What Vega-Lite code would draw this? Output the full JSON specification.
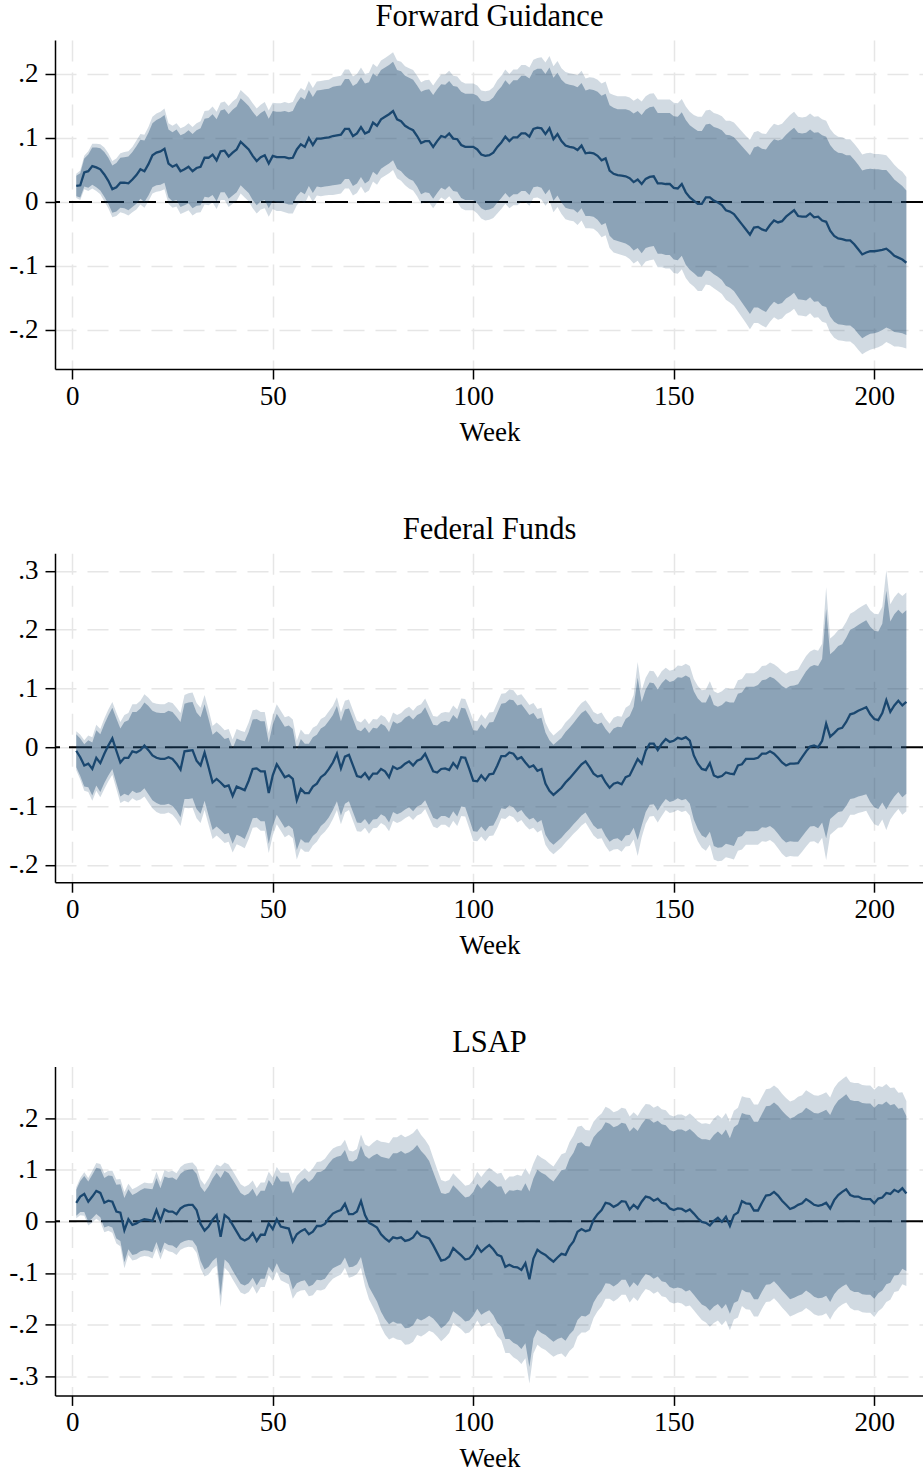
{
"$schema":"https://vega.github.io/schema/vega-lite/v6.json",
"background":"white",
"padding":{"left":8,"top":1,"right":0,"bottom":0},
"config":{
"font":"Liberation Serif",
"view":{"stroke":null},
"concat":{"spacing":69.2},
"title":{"font":"Liberation Serif","fontSize":30.5,"fontWeight":"normal","color":"black","anchor":"middle","frame":"group","offset":8,"baseline":"alphabetic"},
"axis":{"labelFont":"Liberation Serif","labelFontSize":27,"labelColor":"black","titleFont":"Liberation Serif","titleFontSize":27,"titleFontWeight":"normal","titleColor":"black","domainColor":"black","domainWidth":1.5,"tickColor":"black","tickWidth":1.5,"tickSize":10,"gridColor":"#e6e6e6","gridDash":[21,11],"gridWidth":1.5},
"axisX":{"labelPadding":4,"titlePadding":10},
"axisY":{"labelPadding":7}
},
"datasets":{
"fg":[
{"w":1,"y":0.025,"e1":0.016,"e2":0.019},{"w":2,"y":0.026,"e1":0.019,"e2":0.023},{"w":3,"y":0.046,"e1":0.022,"e2":0.026},{"w":4,"y":0.048,"e1":0.026,"e2":0.031},{"w":5,"y":0.056,"e1":0.029,"e2":0.035},{"w":6,"y":0.054,"e1":0.031,"e2":0.037},{"w":7,"y":0.051,"e1":0.033,"e2":0.039},{"w":8,"y":0.043,"e1":0.035,"e2":0.042},{"w":9,"y":0.033,"e1":0.036,"e2":0.043},{"w":10,"y":0.020,"e1":0.037,"e2":0.044},
{"w":11,"y":0.023,"e1":0.038,"e2":0.045},{"w":12,"y":0.030,"e1":0.039,"e2":0.046},{"w":13,"y":0.030,"e1":0.040,"e2":0.048},{"w":14,"y":0.029,"e1":0.042,"e2":0.050},{"w":15,"y":0.035,"e1":0.043,"e2":0.051},{"w":16,"y":0.042,"e1":0.045,"e2":0.054},{"w":17,"y":0.051,"e1":0.046,"e2":0.055},{"w":18,"y":0.048,"e1":0.048,"e2":0.057},{"w":19,"y":0.059,"e1":0.049,"e2":0.058},{"w":20,"y":0.073,"e1":0.050,"e2":0.060},
{"w":21,"y":0.077,"e1":0.051,"e2":0.061},{"w":22,"y":0.079,"e1":0.052,"e2":0.062},{"w":23,"y":0.083,"e1":0.053,"e2":0.063},{"w":24,"y":0.060,"e1":0.053,"e2":0.063},{"w":25,"y":0.055,"e1":0.054,"e2":0.064},{"w":26,"y":0.058,"e1":0.055,"e2":0.065},{"w":27,"y":0.048,"e1":0.056,"e2":0.067},{"w":28,"y":0.051,"e1":0.056,"e2":0.067},{"w":29,"y":0.055,"e1":0.057,"e2":0.068},{"w":30,"y":0.048,"e1":0.058,"e2":0.069},
{"w":31,"y":0.053,"e1":0.059,"e2":0.070},{"w":32,"y":0.055,"e1":0.060,"e2":0.071},{"w":33,"y":0.069,"e1":0.061,"e2":0.073},{"w":34,"y":0.069,"e1":0.062,"e2":0.074},{"w":35,"y":0.074,"e1":0.063,"e2":0.075},{"w":36,"y":0.065,"e1":0.064,"e2":0.076},{"w":37,"y":0.079,"e1":0.064,"e2":0.076},{"w":38,"y":0.080,"e1":0.065,"e2":0.077},{"w":39,"y":0.071,"e1":0.066,"e2":0.079},{"w":40,"y":0.077,"e1":0.067,"e2":0.080},
{"w":41,"y":0.082,"e1":0.067,"e2":0.080},{"w":42,"y":0.094,"e1":0.068,"e2":0.081},{"w":43,"y":0.088,"e1":0.068,"e2":0.081},{"w":44,"y":0.082,"e1":0.068,"e2":0.081},{"w":45,"y":0.072,"e1":0.069,"e2":0.082},{"w":46,"y":0.064,"e1":0.069,"e2":0.082},{"w":47,"y":0.070,"e1":0.069,"e2":0.082},{"w":48,"y":0.073,"e1":0.070,"e2":0.083},{"w":49,"y":0.060,"e1":0.070,"e2":0.083},{"w":50,"y":0.072,"e1":0.070,"e2":0.083},
{"w":51,"y":0.070,"e1":0.071,"e2":0.084},{"w":52,"y":0.070,"e1":0.071,"e2":0.084},{"w":53,"y":0.070,"e1":0.072,"e2":0.086},{"w":54,"y":0.068,"e1":0.072,"e2":0.086},{"w":55,"y":0.069,"e1":0.073,"e2":0.087},{"w":56,"y":0.082,"e1":0.073,"e2":0.087},{"w":57,"y":0.090,"e1":0.074,"e2":0.088},{"w":58,"y":0.086,"e1":0.074,"e2":0.088},{"w":59,"y":0.100,"e1":0.075,"e2":0.089},{"w":60,"y":0.089,"e1":0.075,"e2":0.089},
{"w":61,"y":0.099,"e1":0.075,"e2":0.089},{"w":62,"y":0.099,"e1":0.076,"e2":0.090},{"w":63,"y":0.100,"e1":0.076,"e2":0.090},{"w":64,"y":0.101,"e1":0.076,"e2":0.090},{"w":65,"y":0.103,"e1":0.077,"e2":0.092},{"w":66,"y":0.104,"e1":0.077,"e2":0.092},{"w":67,"y":0.105,"e1":0.077,"e2":0.092},{"w":68,"y":0.114,"e1":0.078,"e2":0.093},{"w":69,"y":0.114,"e1":0.078,"e2":0.093},{"w":70,"y":0.103,"e1":0.078,"e2":0.093},
{"w":71,"y":0.107,"e1":0.078,"e2":0.093},{"w":72,"y":0.117,"e1":0.078,"e2":0.093},{"w":73,"y":0.107,"e1":0.078,"e2":0.093},{"w":74,"y":0.110,"e1":0.077,"e2":0.092},{"w":75,"y":0.124,"e1":0.077,"e2":0.092},{"w":76,"y":0.119,"e1":0.077,"e2":0.092},{"w":77,"y":0.129,"e1":0.077,"e2":0.092},{"w":78,"y":0.133,"e1":0.077,"e2":0.092},{"w":79,"y":0.137,"e1":0.077,"e2":0.092},{"w":80,"y":0.142,"e1":0.077,"e2":0.092},
{"w":81,"y":0.129,"e1":0.077,"e2":0.092},{"w":82,"y":0.126,"e1":0.078,"e2":0.093},{"w":83,"y":0.119,"e1":0.078,"e2":0.093},{"w":84,"y":0.115,"e1":0.079,"e2":0.094},{"w":85,"y":0.112,"e1":0.079,"e2":0.094},{"w":86,"y":0.103,"e1":0.079,"e2":0.094},{"w":87,"y":0.092,"e1":0.080,"e2":0.095},{"w":88,"y":0.095,"e1":0.080,"e2":0.095},{"w":89,"y":0.095,"e1":0.081,"e2":0.096},{"w":90,"y":0.086,"e1":0.081,"e2":0.096},
{"w":91,"y":0.095,"e1":0.081,"e2":0.096},{"w":92,"y":0.103,"e1":0.081,"e2":0.096},{"w":93,"y":0.101,"e1":0.082,"e2":0.098},{"w":94,"y":0.107,"e1":0.082,"e2":0.098},{"w":95,"y":0.099,"e1":0.082,"e2":0.098},{"w":96,"y":0.098,"e1":0.082,"e2":0.098},{"w":97,"y":0.089,"e1":0.083,"e2":0.099},{"w":98,"y":0.086,"e1":0.083,"e2":0.099},{"w":99,"y":0.086,"e1":0.083,"e2":0.099},{"w":100,"y":0.086,"e1":0.083,"e2":0.099},
{"w":101,"y":0.082,"e1":0.084,"e2":0.100},{"w":102,"y":0.074,"e1":0.084,"e2":0.100},{"w":103,"y":0.072,"e1":0.085,"e2":0.101},{"w":104,"y":0.073,"e1":0.085,"e2":0.101},{"w":105,"y":0.077,"e1":0.086,"e2":0.102},{"w":106,"y":0.086,"e1":0.087,"e2":0.104},{"w":107,"y":0.093,"e1":0.087,"e2":0.104},{"w":108,"y":0.102,"e1":0.088,"e2":0.105},{"w":109,"y":0.095,"e1":0.088,"e2":0.105},{"w":110,"y":0.101,"e1":0.089,"e2":0.106},
{"w":111,"y":0.101,"e1":0.089,"e2":0.106},{"w":112,"y":0.107,"e1":0.090,"e2":0.107},{"w":113,"y":0.107,"e1":0.090,"e2":0.107},{"w":114,"y":0.102,"e1":0.091,"e2":0.108},{"w":115,"y":0.114,"e1":0.091,"e2":0.108},{"w":116,"y":0.116,"e1":0.092,"e2":0.109},{"w":117,"y":0.115,"e1":0.093,"e2":0.111},{"w":118,"y":0.106,"e1":0.094,"e2":0.112},{"w":119,"y":0.115,"e1":0.095,"e2":0.113},{"w":120,"y":0.098,"e1":0.096,"e2":0.114},
{"w":121,"y":0.106,"e1":0.096,"e2":0.114},{"w":122,"y":0.095,"e1":0.096,"e2":0.114},{"w":123,"y":0.088,"e1":0.097,"e2":0.115},{"w":124,"y":0.086,"e1":0.097,"e2":0.115},{"w":125,"y":0.085,"e1":0.097,"e2":0.115},{"w":126,"y":0.081,"e1":0.098,"e2":0.117},{"w":127,"y":0.088,"e1":0.098,"e2":0.117},{"w":128,"y":0.076,"e1":0.098,"e2":0.117},{"w":129,"y":0.077,"e1":0.099,"e2":0.118},{"w":130,"y":0.076,"e1":0.099,"e2":0.118},
{"w":131,"y":0.072,"e1":0.100,"e2":0.119},{"w":132,"y":0.065,"e1":0.101,"e2":0.120},{"w":133,"y":0.068,"e1":0.101,"e2":0.120},{"w":134,"y":0.049,"e1":0.102,"e2":0.121},{"w":135,"y":0.044,"e1":0.103,"e2":0.123},{"w":136,"y":0.042,"e1":0.103,"e2":0.123},{"w":137,"y":0.041,"e1":0.104,"e2":0.124},{"w":138,"y":0.040,"e1":0.105,"e2":0.125},{"w":139,"y":0.037,"e1":0.106,"e2":0.126},{"w":140,"y":0.031,"e1":0.107,"e2":0.127},
{"w":141,"y":0.035,"e1":0.107,"e2":0.127},{"w":142,"y":0.028,"e1":0.108,"e2":0.129},{"w":143,"y":0.036,"e1":0.108,"e2":0.129},{"w":144,"y":0.039,"e1":0.109,"e2":0.130},{"w":145,"y":0.040,"e1":0.109,"e2":0.130},{"w":146,"y":0.029,"e1":0.110,"e2":0.131},{"w":147,"y":0.029,"e1":0.110,"e2":0.131},{"w":148,"y":0.028,"e1":0.111,"e2":0.132},{"w":149,"y":0.028,"e1":0.111,"e2":0.132},{"w":150,"y":0.022,"e1":0.112,"e2":0.133},
{"w":151,"y":0.021,"e1":0.112,"e2":0.133},{"w":152,"y":0.028,"e1":0.112,"e2":0.133},{"w":153,"y":0.015,"e1":0.113,"e2":0.134},{"w":154,"y":0.007,"e1":0.113,"e2":0.134},{"w":155,"y":0.002,"e1":0.113,"e2":0.134},{"w":156,"y":-0.003,"e1":0.114,"e2":0.136},{"w":157,"y":-0.003,"e1":0.114,"e2":0.136},{"w":158,"y":0.007,"e1":0.114,"e2":0.136},{"w":159,"y":0.007,"e1":0.115,"e2":0.137},{"w":160,"y":0.002,"e1":0.115,"e2":0.137},
{"w":161,"y":-0.001,"e1":0.116,"e2":0.138},{"w":162,"y":-0.005,"e1":0.117,"e2":0.139},{"w":163,"y":-0.013,"e1":0.118,"e2":0.140},{"w":164,"y":-0.015,"e1":0.119,"e2":0.142},{"w":165,"y":-0.019,"e1":0.120,"e2":0.143},{"w":166,"y":-0.027,"e1":0.121,"e2":0.144},{"w":167,"y":-0.035,"e1":0.122,"e2":0.145},{"w":168,"y":-0.043,"e1":0.123,"e2":0.146},{"w":169,"y":-0.051,"e1":0.124,"e2":0.148},{"w":170,"y":-0.040,"e1":0.125,"e2":0.149},
{"w":171,"y":-0.039,"e1":0.126,"e2":0.150},{"w":172,"y":-0.043,"e1":0.126,"e2":0.150},{"w":173,"y":-0.045,"e1":0.127,"e2":0.151},{"w":174,"y":-0.036,"e1":0.127,"e2":0.151},{"w":175,"y":-0.029,"e1":0.127,"e2":0.151},{"w":176,"y":-0.032,"e1":0.128,"e2":0.152},{"w":177,"y":-0.030,"e1":0.128,"e2":0.152},{"w":178,"y":-0.023,"e1":0.128,"e2":0.152},{"w":179,"y":-0.018,"e1":0.129,"e2":0.154},{"w":180,"y":-0.013,"e1":0.129,"e2":0.154},
{"w":181,"y":-0.022,"e1":0.130,"e2":0.155},{"w":182,"y":-0.023,"e1":0.130,"e2":0.155},{"w":183,"y":-0.023,"e1":0.131,"e2":0.156},{"w":184,"y":-0.018,"e1":0.131,"e2":0.156},{"w":185,"y":-0.024,"e1":0.132,"e2":0.157},{"w":186,"y":-0.023,"e1":0.132,"e2":0.157},{"w":187,"y":-0.029,"e1":0.133,"e2":0.158},{"w":188,"y":-0.031,"e1":0.133,"e2":0.158},{"w":189,"y":-0.045,"e1":0.134,"e2":0.159},{"w":190,"y":-0.053,"e1":0.134,"e2":0.159},
{"w":191,"y":-0.057,"e1":0.134,"e2":0.159},{"w":192,"y":-0.058,"e1":0.134,"e2":0.159},{"w":193,"y":-0.060,"e1":0.133,"e2":0.158},{"w":194,"y":-0.060,"e1":0.133,"e2":0.158},{"w":195,"y":-0.066,"e1":0.132,"e2":0.157},{"w":196,"y":-0.074,"e1":0.132,"e2":0.157},{"w":197,"y":-0.082,"e1":0.131,"e2":0.156},{"w":198,"y":-0.079,"e1":0.130,"e2":0.155},{"w":199,"y":-0.077,"e1":0.129,"e2":0.154},{"w":200,"y":-0.077,"e1":0.128,"e2":0.152},
{"w":201,"y":-0.076,"e1":0.127,"e2":0.151},{"w":202,"y":-0.075,"e1":0.125,"e2":0.149},{"w":203,"y":-0.073,"e1":0.123,"e2":0.146},{"w":204,"y":-0.078,"e1":0.121,"e2":0.144},{"w":205,"y":-0.084,"e1":0.119,"e2":0.142},{"w":206,"y":-0.087,"e1":0.117,"e2":0.139},{"w":207,"y":-0.090,"e1":0.115,"e2":0.137},{"w":208,"y":-0.095,"e1":0.113,"e2":0.134}
],
"ff":[
{"w":1,"y":-0.006,"e1":0.028,"e2":0.033},{"w":2,"y":-0.017,"e1":0.032,"e2":0.038},{"w":3,"y":-0.031,"e1":0.036,"e2":0.043},{"w":4,"y":-0.028,"e1":0.040,"e2":0.048},{"w":5,"y":-0.037,"e1":0.045,"e2":0.054},{"w":6,"y":-0.018,"e1":0.047,"e2":0.056},{"w":7,"y":-0.027,"e1":0.049,"e2":0.058},{"w":8,"y":-0.011,"e1":0.050,"e2":0.060},{"w":9,"y":0.003,"e1":0.051,"e2":0.061},{"w":10,"y":0.015,"e1":0.052,"e2":0.062},
{"w":11,"y":-0.006,"e1":0.055,"e2":0.065},{"w":12,"y":-0.026,"e1":0.058,"e2":0.069},{"w":13,"y":-0.018,"e1":0.061,"e2":0.073},{"w":14,"y":-0.018,"e1":0.064,"e2":0.076},{"w":15,"y":-0.007,"e1":0.067,"e2":0.080},{"w":16,"y":-0.009,"e1":0.069,"e2":0.082},{"w":17,"y":-0.005,"e1":0.071,"e2":0.084},{"w":18,"y":0.003,"e1":0.073,"e2":0.087},{"w":19,"y":-0.005,"e1":0.075,"e2":0.089},{"w":20,"y":-0.014,"e1":0.076,"e2":0.090},
{"w":21,"y":-0.018,"e1":0.077,"e2":0.092},{"w":22,"y":-0.020,"e1":0.078,"e2":0.093},{"w":23,"y":-0.020,"e1":0.078,"e2":0.093},{"w":24,"y":-0.017,"e1":0.079,"e2":0.094},{"w":25,"y":-0.020,"e1":0.080,"e2":0.095},{"w":26,"y":-0.028,"e1":0.080,"e2":0.095},{"w":27,"y":-0.038,"e1":0.081,"e2":0.096},{"w":28,"y":-0.007,"e1":0.081,"e2":0.096},{"w":29,"y":-0.006,"e1":0.082,"e2":0.098},{"w":30,"y":-0.005,"e1":0.082,"e2":0.098},
{"w":31,"y":-0.023,"e1":0.082,"e2":0.098},{"w":32,"y":-0.031,"e1":0.082,"e2":0.098},{"w":33,"y":-0.009,"e1":0.082,"e2":0.098},{"w":34,"y":-0.034,"e1":0.082,"e2":0.098},{"w":35,"y":-0.060,"e1":0.081,"e2":0.096},{"w":36,"y":-0.054,"e1":0.081,"e2":0.096},{"w":37,"y":-0.060,"e1":0.081,"e2":0.096},{"w":38,"y":-0.067,"e1":0.081,"e2":0.096},{"w":39,"y":-0.065,"e1":0.081,"e2":0.096},{"w":40,"y":-0.083,"e1":0.081,"e2":0.096},
{"w":41,"y":-0.067,"e1":0.082,"e2":0.098},{"w":42,"y":-0.070,"e1":0.082,"e2":0.098},{"w":43,"y":-0.073,"e1":0.083,"e2":0.099},{"w":44,"y":-0.057,"e1":0.083,"e2":0.099},{"w":45,"y":-0.037,"e1":0.084,"e2":0.100},{"w":46,"y":-0.036,"e1":0.084,"e2":0.100},{"w":47,"y":-0.041,"e1":0.085,"e2":0.101},{"w":48,"y":-0.041,"e1":0.085,"e2":0.101},{"w":49,"y":-0.078,"e1":0.086,"e2":0.102},{"w":50,"y":-0.048,"e1":0.086,"e2":0.102},
{"w":51,"y":-0.029,"e1":0.086,"e2":0.102},{"w":52,"y":-0.040,"e1":0.086,"e2":0.102},{"w":53,"y":-0.051,"e1":0.086,"e2":0.102},{"w":54,"y":-0.048,"e1":0.085,"e2":0.101},{"w":55,"y":-0.054,"e1":0.085,"e2":0.101},{"w":56,"y":-0.090,"e1":0.085,"e2":0.101},{"w":57,"y":-0.071,"e1":0.085,"e2":0.101},{"w":58,"y":-0.078,"e1":0.084,"e2":0.100},{"w":59,"y":-0.078,"e1":0.084,"e2":0.100},{"w":60,"y":-0.067,"e1":0.084,"e2":0.100},
{"w":61,"y":-0.062,"e1":0.083,"e2":0.099},{"w":62,"y":-0.051,"e1":0.083,"e2":0.099},{"w":63,"y":-0.046,"e1":0.082,"e2":0.098},{"w":64,"y":-0.037,"e1":0.082,"e2":0.098},{"w":65,"y":-0.026,"e1":0.081,"e2":0.096},{"w":66,"y":-0.011,"e1":0.081,"e2":0.096},{"w":67,"y":-0.036,"e1":0.080,"e2":0.095},{"w":68,"y":-0.016,"e1":0.080,"e2":0.095},{"w":69,"y":-0.013,"e1":0.079,"e2":0.094},{"w":70,"y":-0.031,"e1":0.079,"e2":0.094},
{"w":71,"y":-0.049,"e1":0.079,"e2":0.094},{"w":72,"y":-0.051,"e1":0.078,"e2":0.093},{"w":73,"y":-0.044,"e1":0.078,"e2":0.093},{"w":74,"y":-0.054,"e1":0.078,"e2":0.093},{"w":75,"y":-0.045,"e1":0.078,"e2":0.093},{"w":76,"y":-0.045,"e1":0.077,"e2":0.092},{"w":77,"y":-0.037,"e1":0.077,"e2":0.092},{"w":78,"y":-0.041,"e1":0.077,"e2":0.092},{"w":79,"y":-0.051,"e1":0.077,"e2":0.092},{"w":80,"y":-0.033,"e1":0.077,"e2":0.092},
{"w":81,"y":-0.037,"e1":0.077,"e2":0.092},{"w":82,"y":-0.034,"e1":0.077,"e2":0.092},{"w":83,"y":-0.028,"e1":0.078,"e2":0.093},{"w":84,"y":-0.024,"e1":0.078,"e2":0.093},{"w":85,"y":-0.031,"e1":0.078,"e2":0.093},{"w":86,"y":-0.023,"e1":0.078,"e2":0.093},{"w":87,"y":-0.020,"e1":0.078,"e2":0.093},{"w":88,"y":-0.011,"e1":0.079,"e2":0.094},{"w":89,"y":-0.026,"e1":0.079,"e2":0.094},{"w":90,"y":-0.041,"e1":0.079,"e2":0.094},
{"w":91,"y":-0.043,"e1":0.080,"e2":0.095},{"w":92,"y":-0.037,"e1":0.080,"e2":0.095},{"w":93,"y":-0.036,"e1":0.081,"e2":0.096},{"w":94,"y":-0.039,"e1":0.082,"e2":0.098},{"w":95,"y":-0.027,"e1":0.082,"e2":0.098},{"w":96,"y":-0.035,"e1":0.083,"e2":0.099},{"w":97,"y":-0.017,"e1":0.084,"e2":0.100},{"w":98,"y":-0.018,"e1":0.084,"e2":0.100},{"w":99,"y":-0.037,"e1":0.085,"e2":0.101},{"w":100,"y":-0.057,"e1":0.086,"e2":0.102},
{"w":101,"y":-0.058,"e1":0.086,"e2":0.102},{"w":102,"y":-0.048,"e1":0.087,"e2":0.104},{"w":103,"y":-0.056,"e1":0.087,"e2":0.104},{"w":104,"y":-0.046,"e1":0.088,"e2":0.105},{"w":105,"y":-0.045,"e1":0.088,"e2":0.105},{"w":106,"y":-0.031,"e1":0.089,"e2":0.106},{"w":107,"y":-0.015,"e1":0.089,"e2":0.106},{"w":108,"y":-0.015,"e1":0.090,"e2":0.107},{"w":109,"y":-0.009,"e1":0.090,"e2":0.107},{"w":110,"y":-0.011,"e1":0.091,"e2":0.108},
{"w":111,"y":-0.020,"e1":0.091,"e2":0.108},{"w":112,"y":-0.017,"e1":0.090,"e2":0.107},{"w":113,"y":-0.026,"e1":0.090,"e2":0.107},{"w":114,"y":-0.034,"e1":0.089,"e2":0.106},{"w":115,"y":-0.031,"e1":0.089,"e2":0.106},{"w":116,"y":-0.040,"e1":0.088,"e2":0.105},{"w":117,"y":-0.037,"e1":0.087,"e2":0.104},{"w":118,"y":-0.062,"e1":0.087,"e2":0.104},{"w":119,"y":-0.074,"e1":0.086,"e2":0.102},{"w":120,"y":-0.081,"e1":0.085,"e2":0.101},
{"w":121,"y":-0.075,"e1":0.085,"e2":0.101},{"w":122,"y":-0.069,"e1":0.085,"e2":0.101},{"w":123,"y":-0.060,"e1":0.086,"e2":0.102},{"w":124,"y":-0.053,"e1":0.086,"e2":0.102},{"w":125,"y":-0.045,"e1":0.086,"e2":0.102},{"w":126,"y":-0.037,"e1":0.087,"e2":0.104},{"w":127,"y":-0.029,"e1":0.087,"e2":0.104},{"w":128,"y":-0.024,"e1":0.087,"e2":0.104},{"w":129,"y":-0.034,"e1":0.088,"e2":0.105},{"w":130,"y":-0.045,"e1":0.088,"e2":0.105},
{"w":131,"y":-0.050,"e1":0.089,"e2":0.106},{"w":132,"y":-0.048,"e1":0.090,"e2":0.107},{"w":133,"y":-0.060,"e1":0.091,"e2":0.108},{"w":134,"y":-0.069,"e1":0.092,"e2":0.109},{"w":135,"y":-0.062,"e1":0.094,"e2":0.112},{"w":136,"y":-0.060,"e1":0.095,"e2":0.113},{"w":137,"y":-0.063,"e1":0.097,"e2":0.115},{"w":138,"y":-0.051,"e1":0.099,"e2":0.118},{"w":139,"y":-0.048,"e1":0.101,"e2":0.120},{"w":140,"y":-0.034,"e1":0.103,"e2":0.123},
{"w":141,"y":-0.020,"e1":0.138,"e2":0.165},{"w":142,"y":-0.028,"e1":0.105,"e2":0.125},{"w":143,"y":-0.006,"e1":0.104,"e2":0.124},{"w":144,"y":0.006,"e1":0.104,"e2":0.124},{"w":145,"y":0.006,"e1":0.103,"e2":0.123},{"w":146,"y":-0.005,"e1":0.103,"e2":0.123},{"w":147,"y":0.006,"e1":0.103,"e2":0.123},{"w":148,"y":0.014,"e1":0.102,"e2":0.121},{"w":149,"y":0.009,"e1":0.102,"e2":0.121},{"w":150,"y":0.011,"e1":0.102,"e2":0.121},
{"w":151,"y":0.016,"e1":0.103,"e2":0.123},{"w":152,"y":0.014,"e1":0.104,"e2":0.124},{"w":153,"y":0.017,"e1":0.105,"e2":0.125},{"w":154,"y":0.011,"e1":0.107,"e2":0.127},{"w":155,"y":-0.014,"e1":0.109,"e2":0.130},{"w":156,"y":-0.028,"e1":0.111,"e2":0.132},{"w":157,"y":-0.037,"e1":0.113,"e2":0.134},{"w":158,"y":-0.039,"e1":0.115,"e2":0.137},{"w":159,"y":-0.027,"e1":0.117,"e2":0.139},{"w":160,"y":-0.048,"e1":0.120,"e2":0.143},
{"w":161,"y":-0.051,"e1":0.120,"e2":0.143},{"w":162,"y":-0.049,"e1":0.121,"e2":0.144},{"w":163,"y":-0.043,"e1":0.121,"e2":0.144},{"w":164,"y":-0.045,"e1":0.121,"e2":0.144},{"w":165,"y":-0.046,"e1":0.122,"e2":0.145},{"w":166,"y":-0.031,"e1":0.122,"e2":0.145},{"w":167,"y":-0.029,"e1":0.122,"e2":0.145},{"w":168,"y":-0.020,"e1":0.123,"e2":0.146},{"w":169,"y":-0.020,"e1":0.123,"e2":0.146},{"w":170,"y":-0.020,"e1":0.123,"e2":0.146},
{"w":171,"y":-0.018,"e1":0.124,"e2":0.148},{"w":172,"y":-0.011,"e1":0.125,"e2":0.149},{"w":173,"y":-0.011,"e1":0.126,"e2":0.150},{"w":174,"y":-0.007,"e1":0.127,"e2":0.151},{"w":175,"y":-0.011,"e1":0.128,"e2":0.152},{"w":176,"y":-0.018,"e1":0.129,"e2":0.154},{"w":177,"y":-0.026,"e1":0.130,"e2":0.155},{"w":178,"y":-0.031,"e1":0.131,"e2":0.156},{"w":179,"y":-0.028,"e1":0.132,"e2":0.157},{"w":180,"y":-0.028,"e1":0.133,"e2":0.158},
{"w":181,"y":-0.027,"e1":0.134,"e2":0.159},{"w":182,"y":-0.017,"e1":0.135,"e2":0.161},{"w":183,"y":-0.007,"e1":0.136,"e2":0.162},{"w":184,"y":0.001,"e1":0.136,"e2":0.162},{"w":185,"y":0.003,"e1":0.137,"e2":0.163},{"w":186,"y":0.000,"e1":0.138,"e2":0.164},{"w":187,"y":0.011,"e1":0.139,"e2":0.165},{"w":188,"y":0.040,"e1":0.195,"e2":0.232},{"w":189,"y":0.018,"e1":0.140,"e2":0.167},{"w":190,"y":0.024,"e1":0.140,"e2":0.167},
{"w":191,"y":0.031,"e1":0.141,"e2":0.168},{"w":192,"y":0.033,"e1":0.142,"e2":0.169},{"w":193,"y":0.043,"e1":0.143,"e2":0.170},{"w":194,"y":0.056,"e1":0.144,"e2":0.171},{"w":195,"y":0.058,"e1":0.145,"e2":0.173},{"w":196,"y":0.062,"e1":0.146,"e2":0.174},{"w":197,"y":0.065,"e1":0.147,"e2":0.175},{"w":198,"y":0.068,"e1":0.148,"e2":0.176},{"w":199,"y":0.056,"e1":0.149,"e2":0.177},{"w":200,"y":0.048,"e1":0.150,"e2":0.179},
{"w":201,"y":0.046,"e1":0.151,"e2":0.180},{"w":202,"y":0.058,"e1":0.152,"e2":0.181},{"w":203,"y":0.080,"e1":0.186,"e2":0.221},{"w":204,"y":0.060,"e1":0.154,"e2":0.183},{"w":205,"y":0.071,"e1":0.155,"e2":0.184},{"w":206,"y":0.079,"e1":0.155,"e2":0.184},{"w":207,"y":0.071,"e1":0.156,"e2":0.186},{"w":208,"y":0.077,"e1":0.156,"e2":0.186}
],
"ls":[
{"w":1,"y":0.036,"e1":0.025,"e2":0.030},{"w":2,"y":0.048,"e1":0.030,"e2":0.036},{"w":3,"y":0.053,"e1":0.035,"e2":0.042},{"w":4,"y":0.038,"e1":0.039,"e2":0.046},{"w":5,"y":0.048,"e1":0.042,"e2":0.050},{"w":6,"y":0.059,"e1":0.045,"e2":0.054},{"w":7,"y":0.055,"e1":0.047,"e2":0.056},{"w":8,"y":0.036,"e1":0.048,"e2":0.057},{"w":9,"y":0.040,"e1":0.049,"e2":0.058},{"w":10,"y":0.038,"e1":0.050,"e2":0.060},
{"w":11,"y":0.019,"e1":0.052,"e2":0.062},{"w":12,"y":0.017,"e1":0.055,"e2":0.065},{"w":13,"y":-0.017,"e1":0.062,"e2":0.074},{"w":14,"y":0.004,"e1":0.058,"e2":0.069},{"w":15,"y":-0.007,"e1":0.058,"e2":0.069},{"w":16,"y":-0.004,"e1":0.059,"e2":0.070},{"w":17,"y":0.001,"e1":0.059,"e2":0.070},{"w":18,"y":0.004,"e1":0.060,"e2":0.071},{"w":19,"y":0.003,"e1":0.060,"e2":0.071},{"w":20,"y":0.001,"e1":0.061,"e2":0.073},
{"w":21,"y":0.022,"e1":0.062,"e2":0.074},{"w":22,"y":0.001,"e1":0.063,"e2":0.075},{"w":23,"y":0.023,"e1":0.064,"e2":0.076},{"w":24,"y":0.019,"e1":0.065,"e2":0.077},{"w":25,"y":0.019,"e1":0.066,"e2":0.079},{"w":26,"y":0.014,"e1":0.066,"e2":0.079},{"w":27,"y":0.025,"e1":0.067,"e2":0.080},{"w":28,"y":0.030,"e1":0.068,"e2":0.081},{"w":29,"y":0.032,"e1":0.068,"e2":0.081},{"w":30,"y":0.032,"e1":0.069,"e2":0.082},
{"w":31,"y":0.022,"e1":0.070,"e2":0.083},{"w":32,"y":-0.005,"e1":0.072,"e2":0.086},{"w":33,"y":-0.018,"e1":0.075,"e2":0.089},{"w":34,"y":-0.010,"e1":0.078,"e2":0.093},{"w":35,"y":0.003,"e1":0.080,"e2":0.095},{"w":36,"y":0.012,"e1":0.082,"e2":0.098},{"w":37,"y":-0.030,"e1":0.114,"e2":0.136},{"w":38,"y":0.012,"e1":0.086,"e2":0.102},{"w":39,"y":0.006,"e1":0.087,"e2":0.104},{"w":40,"y":-0.007,"e1":0.088,"e2":0.105},
{"w":41,"y":-0.020,"e1":0.088,"e2":0.105},{"w":42,"y":-0.033,"e1":0.088,"e2":0.105},{"w":43,"y":-0.037,"e1":0.087,"e2":0.104},{"w":44,"y":-0.033,"e1":0.087,"e2":0.104},{"w":45,"y":-0.023,"e1":0.086,"e2":0.102},{"w":46,"y":-0.038,"e1":0.086,"e2":0.102},{"w":47,"y":-0.026,"e1":0.085,"e2":0.101},{"w":48,"y":-0.026,"e1":0.085,"e2":0.101},{"w":49,"y":-0.004,"e1":0.084,"e2":0.100},{"w":50,"y":-0.015,"e1":0.084,"e2":0.100},
{"w":51,"y":0.004,"e1":0.085,"e2":0.101},{"w":52,"y":-0.010,"e1":0.087,"e2":0.104},{"w":53,"y":-0.012,"e1":0.089,"e2":0.106},{"w":54,"y":-0.014,"e1":0.091,"e2":0.108},{"w":55,"y":-0.039,"e1":0.093,"e2":0.111},{"w":56,"y":-0.025,"e1":0.095,"e2":0.113},{"w":57,"y":-0.019,"e1":0.097,"e2":0.115},{"w":58,"y":-0.015,"e1":0.099,"e2":0.118},{"w":59,"y":-0.025,"e1":0.101,"e2":0.120},{"w":60,"y":-0.020,"e1":0.103,"e2":0.123},
{"w":61,"y":-0.009,"e1":0.104,"e2":0.124},{"w":62,"y":-0.009,"e1":0.105,"e2":0.125},{"w":63,"y":-0.005,"e1":0.106,"e2":0.126},{"w":64,"y":0.006,"e1":0.106,"e2":0.126},{"w":65,"y":0.015,"e1":0.106,"e2":0.126},{"w":66,"y":0.019,"e1":0.106,"e2":0.126},{"w":67,"y":0.022,"e1":0.105,"e2":0.125},{"w":68,"y":0.034,"e1":0.104,"e2":0.124},{"w":69,"y":0.014,"e1":0.103,"e2":0.123},{"w":70,"y":0.014,"e1":0.102,"e2":0.121},
{"w":71,"y":0.019,"e1":0.102,"e2":0.121},{"w":72,"y":0.039,"e1":0.108,"e2":0.129},{"w":73,"y":0.012,"e1":0.115,"e2":0.137},{"w":74,"y":-0.003,"e1":0.124,"e2":0.148},{"w":75,"y":-0.007,"e1":0.134,"e2":0.159},{"w":76,"y":-0.012,"e1":0.143,"e2":0.170},{"w":77,"y":-0.025,"e1":0.150,"e2":0.179},{"w":78,"y":-0.033,"e1":0.156,"e2":0.186},{"w":79,"y":-0.039,"e1":0.160,"e2":0.190},{"w":80,"y":-0.031,"e1":0.163,"e2":0.194},
{"w":81,"y":-0.033,"e1":0.165,"e2":0.196},{"w":82,"y":-0.031,"e1":0.167,"e2":0.199},{"w":83,"y":-0.038,"e1":0.169,"e2":0.201},{"w":84,"y":-0.036,"e1":0.170,"e2":0.202},{"w":85,"y":-0.031,"e1":0.170,"e2":0.202},{"w":86,"y":-0.020,"e1":0.168,"e2":0.200},{"w":87,"y":-0.028,"e1":0.164,"e2":0.195},{"w":88,"y":-0.030,"e1":0.158,"e2":0.188},{"w":89,"y":-0.033,"e1":0.150,"e2":0.179},{"w":90,"y":-0.046,"e1":0.142,"e2":0.169},
{"w":91,"y":-0.061,"e1":0.136,"e2":0.162},{"w":92,"y":-0.076,"e1":0.131,"e2":0.156},{"w":93,"y":-0.074,"e1":0.127,"e2":0.151},{"w":94,"y":-0.068,"e1":0.124,"e2":0.148},{"w":95,"y":-0.052,"e1":0.122,"e2":0.145},{"w":96,"y":-0.059,"e1":0.121,"e2":0.144},{"w":97,"y":-0.066,"e1":0.120,"e2":0.143},{"w":98,"y":-0.074,"e1":0.120,"e2":0.143},{"w":99,"y":-0.072,"e1":0.120,"e2":0.143},{"w":100,"y":-0.063,"e1":0.120,"e2":0.143},
{"w":101,"y":-0.048,"e1":0.121,"e2":0.144},{"w":102,"y":-0.059,"e1":0.122,"e2":0.145},{"w":103,"y":-0.052,"e1":0.124,"e2":0.148},{"w":104,"y":-0.046,"e1":0.126,"e2":0.150},{"w":105,"y":-0.054,"e1":0.128,"e2":0.152},{"w":106,"y":-0.065,"e1":0.132,"e2":0.157},{"w":107,"y":-0.068,"e1":0.136,"e2":0.162},{"w":108,"y":-0.088,"e1":0.140,"e2":0.167},{"w":109,"y":-0.084,"e1":0.144,"e2":0.171},{"w":110,"y":-0.088,"e1":0.147,"e2":0.175},
{"w":111,"y":-0.089,"e1":0.150,"e2":0.179},{"w":112,"y":-0.094,"e1":0.153,"e2":0.182},{"w":113,"y":-0.081,"e1":0.155,"e2":0.184},{"w":114,"y":-0.112,"e1":0.170,"e2":0.202},{"w":115,"y":-0.072,"e1":0.155,"e2":0.184},{"w":116,"y":-0.055,"e1":0.155,"e2":0.184},{"w":117,"y":-0.061,"e1":0.155,"e2":0.184},{"w":118,"y":-0.065,"e1":0.155,"e2":0.184},{"w":119,"y":-0.072,"e1":0.155,"e2":0.184},{"w":120,"y":-0.078,"e1":0.155,"e2":0.184},
{"w":121,"y":-0.070,"e1":0.158,"e2":0.188},{"w":122,"y":-0.063,"e1":0.162,"e2":0.193},{"w":123,"y":-0.065,"e1":0.166,"e2":0.198},{"w":124,"y":-0.049,"e1":0.170,"e2":0.202},{"w":125,"y":-0.039,"e1":0.172,"e2":0.205},{"w":126,"y":-0.020,"e1":0.171,"e2":0.203},{"w":127,"y":-0.015,"e1":0.168,"e2":0.200},{"w":128,"y":-0.019,"e1":0.165,"e2":0.196},{"w":129,"y":-0.017,"e1":0.162,"e2":0.193},{"w":130,"y":0.003,"e1":0.160,"e2":0.190},
{"w":131,"y":0.014,"e1":0.158,"e2":0.188},{"w":132,"y":0.022,"e1":0.157,"e2":0.187},{"w":133,"y":0.036,"e1":0.156,"e2":0.186},{"w":134,"y":0.034,"e1":0.155,"e2":0.184},{"w":135,"y":0.028,"e1":0.154,"e2":0.183},{"w":136,"y":0.032,"e1":0.153,"e2":0.182},{"w":137,"y":0.039,"e1":0.152,"e2":0.181},{"w":138,"y":0.038,"e1":0.151,"e2":0.180},{"w":139,"y":0.023,"e1":0.151,"e2":0.180},{"w":140,"y":0.032,"e1":0.150,"e2":0.179},
{"w":141,"y":0.025,"e1":0.150,"e2":0.179},{"w":142,"y":0.038,"e1":0.150,"e2":0.179},{"w":143,"y":0.048,"e1":0.150,"e2":0.179},{"w":144,"y":0.046,"e1":0.151,"e2":0.180},{"w":145,"y":0.040,"e1":0.151,"e2":0.180},{"w":146,"y":0.044,"e1":0.151,"e2":0.180},{"w":147,"y":0.036,"e1":0.152,"e2":0.181},{"w":148,"y":0.034,"e1":0.152,"e2":0.181},{"w":149,"y":0.025,"e1":0.152,"e2":0.181},{"w":150,"y":0.022,"e1":0.152,"e2":0.181},
{"w":151,"y":0.025,"e1":0.153,"e2":0.182},{"w":152,"y":0.024,"e1":0.154,"e2":0.183},{"w":153,"y":0.019,"e1":0.155,"e2":0.184},{"w":154,"y":0.023,"e1":0.156,"e2":0.186},{"w":155,"y":0.015,"e1":0.157,"e2":0.187},{"w":156,"y":0.006,"e1":0.158,"e2":0.188},{"w":157,"y":-0.001,"e1":0.160,"e2":0.190},{"w":158,"y":-0.003,"e1":0.162,"e2":0.193},{"w":159,"y":-0.008,"e1":0.165,"e2":0.196},{"w":160,"y":0.001,"e1":0.166,"e2":0.198},
{"w":161,"y":0.007,"e1":0.167,"e2":0.199},{"w":162,"y":-0.001,"e1":0.168,"e2":0.200},{"w":163,"y":0.009,"e1":0.169,"e2":0.201},{"w":164,"y":-0.009,"e1":0.170,"e2":0.202},{"w":165,"y":0.012,"e1":0.170,"e2":0.202},{"w":166,"y":0.017,"e1":0.171,"e2":0.203},{"w":167,"y":0.039,"e1":0.171,"e2":0.203},{"w":168,"y":0.035,"e1":0.172,"e2":0.205},{"w":169,"y":0.034,"e1":0.172,"e2":0.205},{"w":170,"y":0.021,"e1":0.172,"e2":0.205},
{"w":171,"y":0.021,"e1":0.172,"e2":0.205},{"w":172,"y":0.036,"e1":0.172,"e2":0.205},{"w":173,"y":0.050,"e1":0.173,"e2":0.206},{"w":174,"y":0.051,"e1":0.173,"e2":0.206},{"w":175,"y":0.057,"e1":0.173,"e2":0.206},{"w":176,"y":0.050,"e1":0.174,"e2":0.207},{"w":177,"y":0.040,"e1":0.174,"e2":0.207},{"w":178,"y":0.032,"e1":0.174,"e2":0.207},{"w":179,"y":0.024,"e1":0.175,"e2":0.208},{"w":180,"y":0.027,"e1":0.175,"e2":0.208},
{"w":181,"y":0.032,"e1":0.176,"e2":0.209},{"w":182,"y":0.035,"e1":0.176,"e2":0.209},{"w":183,"y":0.043,"e1":0.177,"e2":0.211},{"w":184,"y":0.038,"e1":0.177,"e2":0.211},{"w":185,"y":0.032,"e1":0.178,"e2":0.212},{"w":186,"y":0.030,"e1":0.179,"e2":0.213},{"w":187,"y":0.032,"e1":0.180,"e2":0.214},{"w":188,"y":0.036,"e1":0.180,"e2":0.214},{"w":189,"y":0.025,"e1":0.181,"e2":0.215},{"w":190,"y":0.041,"e1":0.182,"e2":0.217},
{"w":191,"y":0.051,"e1":0.183,"e2":0.218},{"w":192,"y":0.057,"e1":0.183,"e2":0.218},{"w":193,"y":0.062,"e1":0.184,"e2":0.219},{"w":194,"y":0.051,"e1":0.184,"e2":0.219},{"w":195,"y":0.048,"e1":0.185,"e2":0.220},{"w":196,"y":0.048,"e1":0.185,"e2":0.220},{"w":197,"y":0.044,"e1":0.185,"e2":0.220},{"w":198,"y":0.043,"e1":0.185,"e2":0.220},{"w":199,"y":0.043,"e1":0.185,"e2":0.220},{"w":200,"y":0.035,"e1":0.185,"e2":0.220},
{"w":201,"y":0.044,"e1":0.183,"e2":0.218},{"w":202,"y":0.046,"e1":0.180,"e2":0.214},{"w":203,"y":0.055,"e1":0.177,"e2":0.211},{"w":204,"y":0.053,"e1":0.172,"e2":0.205},{"w":205,"y":0.061,"e1":0.166,"e2":0.198},{"w":206,"y":0.057,"e1":0.161,"e2":0.192},{"w":207,"y":0.064,"e1":0.156,"e2":0.186},{"w":208,"y":0.054,"e1":0.150,"e2":0.179}
]
},
"vconcat":[
{"title":{"text":"Forward Guidance"},"width":869,"height":329,"data":{"name":"fg"},
"layer":[
{"data":{"values":[{}]},"mark":{"type":"rule","color":"black","strokeWidth":2,"strokeDash":[23,9]},"encoding":{"y":{"datum":0,"type":"quantitative","scale":{"domain":[-0.261,0.253],"nice":false,"zero":false}}}},
{"mark":{"type":"errorband","color":"#1a476f","band":{"opacity":0.2}},"encoding":{"x":{"field":"w","type":"quantitative","scale":{"domain":[-4.3,212.4],"nice":false,"zero":false},"axis":{"values":[0,50,100,150,200],"title":"Week","format":"d","grid":true}},"y":{"field":"y","type":"quantitative","scale":{"domain":[-0.261,0.253],"nice":false,"zero":false},"axis":{"values":[-0.2,-0.1,0,0.1,0.2],"title":null,"grid":true,"labelExpr":"(datum.value < 0 ? '-' : '') + (datum.value == 0 ? '0' : replace(format(abs(datum.value), '.1f'), '0.', '.'))"}},"yError":{"field":"e2"}}},
{"mark":{"type":"errorband","color":"#1a476f","band":{"opacity":0.375}},"encoding":{"x":{"field":"w","type":"quantitative"},"y":{"field":"y","type":"quantitative"},"yError":{"field":"e1"}}},
{"mark":{"type":"line","color":"#1a476f","strokeWidth":2.3},"encoding":{"x":{"field":"w","type":"quantitative"},"y":{"field":"y","type":"quantitative"}}}
]},
{"title":{"text":"Federal Funds"},"width":869,"height":329,"data":{"name":"ff"},
"layer":[
{"data":{"values":[{}]},"mark":{"type":"rule","color":"black","strokeWidth":2,"strokeDash":[23,9]},"encoding":{"y":{"datum":0,"type":"quantitative","scale":{"domain":[-0.2296,0.33],"nice":false,"zero":false}}}},
{"mark":{"type":"errorband","color":"#1a476f","band":{"opacity":0.2}},"encoding":{"x":{"field":"w","type":"quantitative","scale":{"domain":[-4.3,212.4],"nice":false,"zero":false},"axis":{"values":[0,50,100,150,200],"title":"Week","format":"d","grid":true}},"y":{"field":"y","type":"quantitative","scale":{"domain":[-0.2296,0.33],"nice":false,"zero":false},"axis":{"values":[-0.2,-0.1,0,0.1,0.2,0.3],"title":null,"grid":true,"labelExpr":"(datum.value < 0 ? '-' : '') + (datum.value == 0 ? '0' : replace(format(abs(datum.value), '.1f'), '0.', '.'))"}},"yError":{"field":"e2"}}},
{"mark":{"type":"errorband","color":"#1a476f","band":{"opacity":0.375}},"encoding":{"x":{"field":"w","type":"quantitative"},"y":{"field":"y","type":"quantitative"},"yError":{"field":"e1"}}},
{"mark":{"type":"line","color":"#1a476f","strokeWidth":2.3},"encoding":{"x":{"field":"w","type":"quantitative"},"y":{"field":"y","type":"quantitative"}}}
]},
{"title":{"text":"LSAP"},"width":869,"height":329,"data":{"name":"ls"},
"layer":[
{"data":{"values":[{}]},"mark":{"type":"rule","color":"black","strokeWidth":2,"strokeDash":[23,9]},"encoding":{"y":{"datum":0,"type":"quantitative","scale":{"domain":[-0.337,0.3],"nice":false,"zero":false}}}},
{"mark":{"type":"errorband","color":"#1a476f","band":{"opacity":0.2}},"encoding":{"x":{"field":"w","type":"quantitative","scale":{"domain":[-4.3,212.4],"nice":false,"zero":false},"axis":{"values":[0,50,100,150,200],"title":"Week","format":"d","grid":true}},"y":{"field":"y","type":"quantitative","scale":{"domain":[-0.337,0.3],"nice":false,"zero":false},"axis":{"values":[-0.3,-0.2,-0.1,0,0.1,0.2],"title":null,"grid":true,"labelExpr":"(datum.value < 0 ? '-' : '') + (datum.value == 0 ? '0' : replace(format(abs(datum.value), '.1f'), '0.', '.'))"}},"yError":{"field":"e2"}}},
{"mark":{"type":"errorband","color":"#1a476f","band":{"opacity":0.375}},"encoding":{"x":{"field":"w","type":"quantitative"},"y":{"field":"y","type":"quantitative"},"yError":{"field":"e1"}}},
{"mark":{"type":"line","color":"#1a476f","strokeWidth":2.3},"encoding":{"x":{"field":"w","type":"quantitative"},"y":{"field":"y","type":"quantitative"}}}
]}
]
}
